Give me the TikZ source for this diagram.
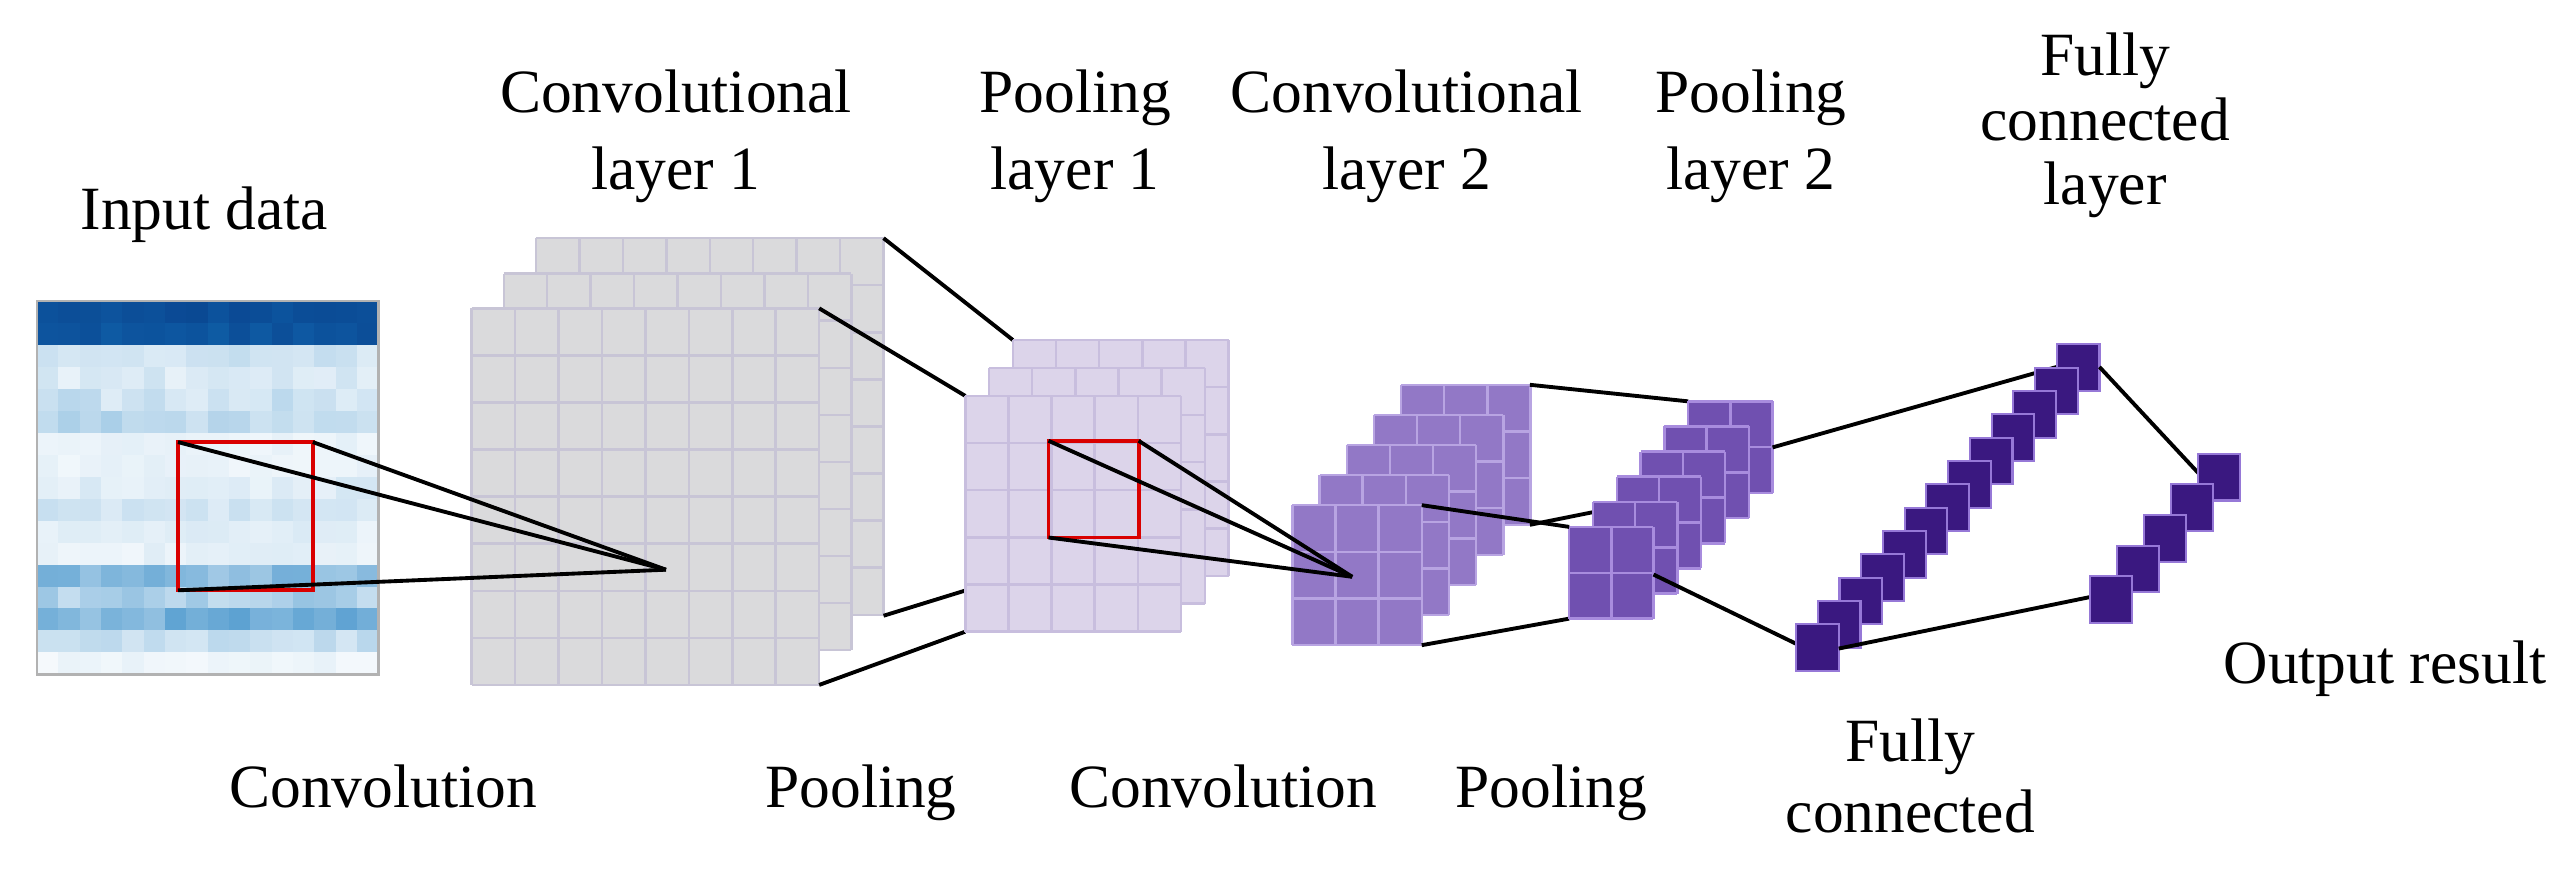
\documentclass[tikz,border=0pt]{standalone}
\usepackage{fontspec}
\setmainfont{Liberation Serif}
\definecolor{inblue}{RGB}{20,120,190}
\definecolor{navy}{RGB}{10,70,145}
\definecolor{gfill}{RGB}{218,218,220}
\definecolor{gline}{RGB}{200,197,214}
\definecolor{p1fill}{RGB}{220,212,234}
\definecolor{p1line}{RGB}{200,190,222}
\definecolor{c2fill}{RGB}{146,120,198}
\definecolor{c2line}{RGB}{184,164,226}
\definecolor{p2fill}{RGB}{112,80,176}
\definecolor{p2line}{RGB}{168,140,222}
\definecolor{fcfill}{RGB}{58,24,128}
\definecolor{fcline}{RGB}{150,120,215}
\newcommand\gridsheet[8]{%
  \fill[#7] (#1,#2) rectangle ++({#3*#5},{#4*#6});
  \foreach \i in {0,...,#3}{\draw[#8,line width=0.7pt] ({#1+\i*#5},#2) -- ++(0,{#4*#6});}
  \foreach \j in {0,...,#4}{\draw[#8,line width=0.7pt] (#1,{#2+\j*#6}) -- ++({#3*#5},0);}
}
\tikzset{
  lbl/.style={font=\fontsize{17.5}{20}\selectfont, anchor=base, inner sep=0pt},
  conn/.style={black, line width=1.1pt},
  redbox/.style={red!85!black, line width=1.1pt},
  cube/.style={fill=fcfill, draw=fcline, line width=0.6pt}
}
\begin{document}
\begin{tikzpicture}[x=0.0160938cm,y=-0.0160938cm]
\useasboundingbox (0,0) rectangle (1600,552);
\fill[white] (0,0) rectangle (1600,552);
% ---------- input data ----------
\pgfmathsetseed{7}
\foreach \r/\b/\a in {0/80/15,1/70/15,2/20/6,3/15/6,4/22/8,5/28/8,6/10/4,7/9/3,8/14/5,9/18/6,10/12/4,11/10/4,12/50/10,13/35/10,14/55/14,15/24/6,16/7/3}{
  \foreach \c in {0,...,15}{
    \pgfmathsetmacro\v{max(2,min(100,\b+rand*\a))}
    \ifnum\r<2
      \fill[navy!\v!inblue] ({23+\c*13.25},{187+\r*13.65}) rectangle ++(13.4,13.8);
    \else
      \fill[inblue!\v!white] ({23+\c*13.25},{187+\r*13.65}) rectangle ++(13.4,13.8);
    \fi
  }
}
\draw[gray!60,line width=0.8pt] (23,187) rectangle (235,419);
% ---------- conv layer 1 ----------
\gridsheet{333}{148}{8}{8}{27}{29.25}{gfill}{gline}
\gridsheet{313}{170}{8}{8}{27}{29.25}{gfill}{gline}
\gridsheet{293}{191.6}{8}{8}{27}{29.25}{gfill}{gline}
% red box on input and projection
\coordinate (in-tl) at (110.6,274.7);
\coordinate (in-tr) at (194.4,274.7);
\coordinate (in-bl) at (110.6,366.8);
\coordinate (c1p) at (413.8,354);
\draw[redbox] (in-tl) rectangle (194.4,366.8);
\draw[conn] (in-tl) -- (c1p);
\draw[conn] (in-tr) -- (c1p);
\draw[conn] (in-bl) -- (c1p);
% conv1 -> pool1 connectors
\coordinate (c1-btr) at (549,148);
\coordinate (c1-ftr) at (509,191.6);
\coordinate (c1-bbr) at (549,382.6);
\coordinate (c1-fbr) at (509,425.6);
\coordinate (p1-btl) at (629.4,211.3);
\coordinate (p1-ftl) at (599.8,246);
\coordinate (p1-bbl) at (629.4,357.8);
\coordinate (p1-fbl) at (599.8,392.5);
\draw[conn] (c1-btr) -- (p1-btl);
\draw[conn] (c1-ftr) -- (p1-ftl);
\draw[conn] (c1-bbr) -- (p1-bbl);
\draw[conn] (c1-fbr) -- (p1-fbl);
% ---------- pool layer 1 ----------
\gridsheet{629.4}{211.3}{5}{5}{26.8}{29.3}{p1fill}{p1line}
\gridsheet{614.6}{228.6}{5}{5}{26.8}{29.3}{p1fill}{p1line}
\gridsheet{599.8}{246}{5}{5}{26.8}{29.3}{p1fill}{p1line}
% ---------- conv layer 2 ----------
\foreach \k in {4,3,2,1,0}{
  \gridsheet{803+\k*16.9}{313.9-\k*18.7}{3}{3}{26.8}{29}{c2fill}{c2line}
}
\coordinate (p1-tl) at (651.5,273.9);
\coordinate (p1-tr) at (707.5,273.9);
\coordinate (p1-bl) at (651.5,334);
\coordinate (c2p) at (840.2,358.4);
\draw[redbox] (p1-tl) rectangle (707.5,334);
\draw[conn] (p1-tl) -- (c2p);
\draw[conn] (p1-tr) -- (c2p);
\draw[conn] (p1-bl) -- (c2p);
% conv2 -> pool2 connectors
\coordinate (c2-btr) at (950.6,239.1);
\coordinate (c2-ftr) at (883.4,313.9);
\coordinate (c2-bbr) at (950.6,326.1);
\coordinate (c2-fbr) at (883.4,400.9);
\coordinate (p2-btl) at (1049,249.4);
\coordinate (p2-ftl) at (975,327.4);
\coordinate (p2-bbl) at (1049,306.4);
\coordinate (p2-fbl) at (975,384.4);
\draw[conn] (c2-btr) -- (p2-btl);
\draw[conn] (c2-bbr) -- (p2-bbl);
\draw[conn] (c2-fbr) -- (p2-fbl);
% ---------- pool layer 2 ----------
\foreach \k in {5,4,3,2,1,0}{
  \gridsheet{975+\k*14.8}{327.4-\k*15.6}{2}{2}{26.2}{28.5}{p2fill}{p2line}
}
\draw[conn] (c2-ftr) -- (p2-ftl);
% pool2 -> FC connectors
\coordinate (p2-r1) at (1101.4,278);
\coordinate (p2-r2) at (1027.4,357);
\coordinate (fc-tl) at (1278,228);
\coordinate (fc-bl) at (1116,400);
\draw[conn] (p2-r1) -- (fc-tl);
\draw[conn] (p2-r2) -- (fc-bl);
% ---------- fully connected ----------
\foreach \k in {12,11,...,0}{
  \draw[cube] ({1116+\k*13.5},{388-\k*14.5}) rectangle ++(26.5,29);
}
\coordinate (fc-tr) at (1304.5,228);
\coordinate (fc-br) at (1142.5,403);
\coordinate (out-tl) at (1366,294);
\coordinate (out-bl) at (1298.6,371);
\draw[conn] (fc-tr) -- (out-tl);
\draw[conn] (fc-br) -- (out-bl);
% ---------- output ----------
\foreach \k in {4,3,2,1,0}{
  \draw[cube] ({1298.6+\k*16.85},{358-\k*19}) rectangle ++(26,29);
}
% ---------- labels ----------
\node[lbl] (t-in) at (127,142.7) {Input data};
\node[lbl] (t-c1a) at (420,69.6) {Convolutional};
\node[lbl] (t-c1b) at (420,117.7) {layer 1};
\node[lbl] (t-p1a) at (668,69.6) {Pooling};
\node[lbl] (t-p1b) at (668,117.7) {layer 1};
\node[lbl] (t-c2a) at (874,69.6) {Convolutional};
\node[lbl] (t-c2b) at (874,117.7) {layer 2};
\node[lbl] (t-p2a) at (1088,69.6) {Pooling};
\node[lbl] (t-p2b) at (1088,117.7) {layer 2};
\node[lbl] (t-fca) at (1308,47) {Fully};
\node[lbl] (t-fcb) at (1308,87) {connected};
\node[lbl] (t-fcc) at (1308,127) {layer};
\node[lbl] (t-out) at (1482,425) {Output result};
\node[lbl] (b-c1) at (238,502) {Convolution};
\node[lbl] (b-p1) at (535,502) {Pooling};
\node[lbl] (b-c2) at (760,502) {Convolution};
\node[lbl] (b-p2) at (964,502) {Pooling};
\node[lbl] (b-fca) at (1187,473) {Fully};
\node[lbl] (b-fcb) at (1187,517) {connected};
\end{tikzpicture}
\end{document}
